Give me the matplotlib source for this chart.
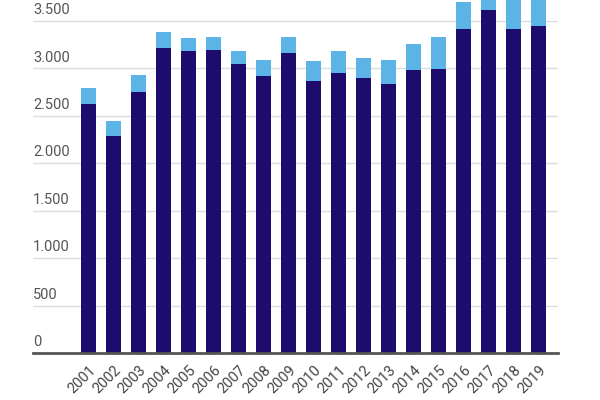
import matplotlib.pyplot as plt
import numpy as np

years = [str(y) for y in range(2001, 2020)]
dark = [2628, 2288, 2755, 3215, 3180, 3191, 3043, 2924, 3159, 2870,
        2952, 2903, 2836, 2983, 2998, 3412, 3616, 3412, 3447]
total = [2790, 2446, 2927, 3381, 3321, 3335, 3184, 3089, 3331, 3078,
         3184, 3113, 3089, 3254, 3331, 3700, 3860, 3820, 3800]
light = [t - d for t, d in zip(total, dark)]
yticks = [0, 500, 1000, 1500, 2000, 2500, 3000, 3500]
ylabels = ["0", "500", "1.000", "1.500", "2.000", "2.500", "3.000", "3.500"]

fig = plt.figure(figsize=(6, 4), dpi=100)
ax = fig.add_axes([33 / 600, 47 / 400, 525 / 600, 353 / 400])

x = np.arange(len(years))
ax.bar(x, dark, width=0.6, color="#1e0b6e", zorder=2)
ax.bar(x, light, width=0.6, bottom=dark, color="#5bb3e6", zorder=2)

ax.set_xlim(-2.22, 18.78)
ax.set_ylim(0, 3721)

# gridlines + labels sitting above the lines
for v, lab in zip(yticks, ylabels):
    if v > 0:
        ax.axhline(v, color="#dddddd", lw=1, zorder=1)
    ax.text(-2.22, v + 40, lab, color="#555555", fontsize=10.5,
            ha="left", va="bottom", family="Roboto")
ax.set_yticks([])

ax.set_xticks(x)
ax.set_xticklabels(years, rotation=45, ha="right", rotation_mode="anchor",
                   fontsize=10.5, color="#444444", family="Roboto")
ax.tick_params(axis="x", length=0, pad=7)

for s in ["top", "right", "left"]:
    ax.spines[s].set_visible(False)
ax.spines["bottom"].set_color("#555555")
ax.spines["bottom"].set_linewidth(2)
ax.spines["bottom"].set_zorder(3)

fig.savefig("out.png", dpi=100)
